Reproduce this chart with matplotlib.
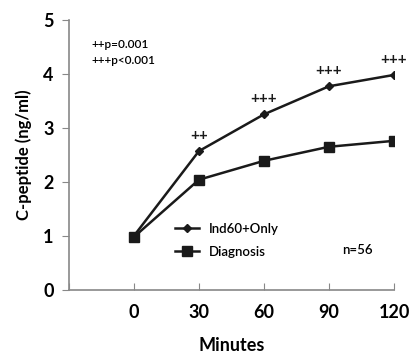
import matplotlib
matplotlib.use('Agg')
import matplotlib.pyplot as plt

minutes = [0, 30, 60, 90, 120]
ind60_only = [1.00, 2.57, 3.25, 3.77, 3.98]
diagnosis = [0.98, 2.04, 2.39, 2.65, 2.76]
sig_marks = ['', '++', '+++', '+++', '+++']
y_ticks = [0, 1, 2, 3, 4, 5]

plt.rcParams['font.family'] = ['Lato', 'DejaVu Sans']

fig = plt.figure(figsize=(4.10, 3.54), dpi=100)
ax = fig.add_axes([0.168, 0.181, 0.793, 0.763])

ax.plot(minutes, ind60_only, color='#1a1a1a', lw=1.8, marker='D', ms=4.5,
        label='Ind60+Only')
ax.plot(minutes, diagnosis, color='#1a1a1a', lw=1.8, marker='s', ms=7,
        label='Diagnosis')

for x, y, s in zip(minutes, ind60_only, sig_marks):
    if s:
        ax.text(x, y + 0.15, s, ha='center', va='bottom', fontsize=11,
                fontweight='bold', color='#1a1a1a')

ax.set_xlim(-30, 120)
ax.set_ylim(0, 5)
ax.set_xticks([-30] + minutes)
ax.set_xticklabels([''] + [str(m) for m in minutes], fontsize=13, fontweight='bold')
ax.set_yticks(y_ticks)
ax.set_yticklabels([str(v) for v in y_ticks], fontsize=13, fontweight='bold')

for side in ['top', 'right']:
    ax.spines[side].set_visible(False)
for side in ['left', 'bottom']:
    ax.spines[side].set_color('#888888')
    ax.spines[side].set_linewidth(1.2)
ax.tick_params(axis='x', direction='in', length=5, color='#888888', pad=10)
ax.tick_params(axis='y', direction='out', length=5, color='#888888', pad=6)

ax.set_xlabel('Minutes', fontsize=13, fontweight='bold', labelpad=12)
ax.set_ylabel('C-peptide (ng/ml)', fontsize=12, fontweight='bold', labelpad=8)

ax.legend(loc='lower left', bbox_to_anchor=(0.31, 0.1), frameon=False,
          prop={'size': 9.5, 'weight': 'semibold'}, handlelength=1.8,
          labelspacing=0.8, borderaxespad=0)

ax.text(0.84, 0.147, 'n=56', transform=ax.transAxes, fontsize=9.5,
        fontweight='semibold', va='center')
ax.text(0.07, 0.91, '++p=0.001', transform=ax.transAxes, fontsize=8.5,
        fontweight='semibold', va='center')
ax.text(0.07, 0.85, '+++p<0.001', transform=ax.transAxes, fontsize=8.5,
        fontweight='semibold', va='center')

fig.savefig('out.png', dpi=100)
